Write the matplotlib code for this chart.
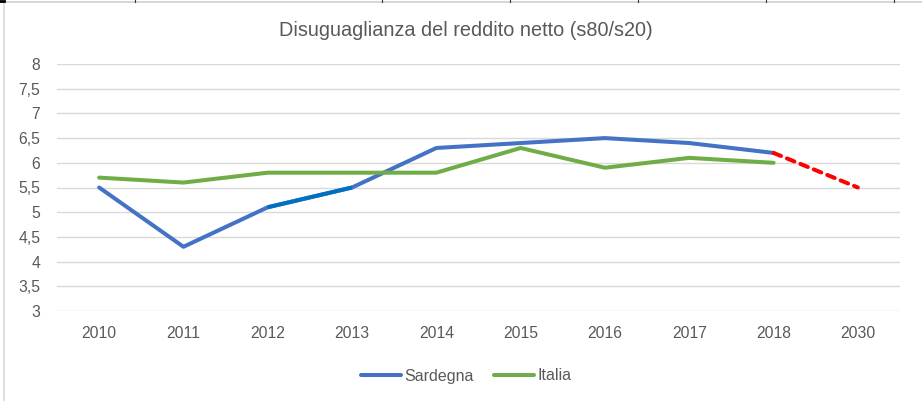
import matplotlib
matplotlib.use("Agg")
import matplotlib.pyplot as plt
from matplotlib.lines import Line2D
import numpy as np

years = ["2010", "2011", "2012", "2013", "2014", "2015", "2016", "2017", "2018", "2030"]
sardegna = [5.5, 4.3, 5.1, 5.5, 6.3, 6.4, 6.5, 6.4, 6.2, np.nan]
italia = [5.7, 5.6, 5.8, 5.8, 5.8, 6.3, 5.9, 6.1, 6.0, np.nan]
proiezione = [np.nan] * 8 + [6.2, 5.5]
yticks = [3, 3.5, 4, 4.5, 5, 5.5, 6, 6.5, 7, 7.5, 8]
ytick_labels = ["3", "3,5", "4", "4,5", "5", "5,5", "6", "6,5", "7", "7,5", "8"]
title = "Disuguaglianza del reddito netto (s80/s20)"

W, H = 922, 401
fig = plt.figure(figsize=(W / 100, H / 100), dpi=100)
txt = "#595959"
font = ["Liberation Sans", "DejaVu Sans"]

ax = fig.add_axes([57 / W, (H - 311) / H, (900 - 57) / W, (311 - 64) / H])
x = np.arange(len(years))

blue = "#4472C4"
green = "#70AD47"
ax.plot(x, sardegna, color=blue, lw=2.9, solid_capstyle="round", solid_joinstyle="round", zorder=3)
# segment 2012-2013 drawn in a darker blue as in the reference
seg = [np.nan, np.nan, sardegna[2], sardegna[3]] + [np.nan] * 6
ax.plot(x, seg, color="#0070C0", lw=2.9, solid_capstyle="butt", zorder=4)
ax.plot(x, italia, color=green, lw=2.9, solid_capstyle="round", solid_joinstyle="round", zorder=3)
ax.plot(x, proiezione, color="#FF0000", lw=2.9, dashes=(2.0, 1.6), dash_capstyle="round", zorder=3)

ax.set_xlim(-0.5, len(years) - 0.5)
ax.set_ylim(3, 8)
ax.set_yticks(yticks)
ax.set_yticklabels(ytick_labels)
ax.set_xticks(x)
ax.set_xticklabels(years)
ax.yaxis.grid(True, color="#D9D9D9", lw=1)
ax.set_axisbelow(True)
for s in ax.spines.values():
    s.set_visible(False)
ax.tick_params(axis="both", length=0, colors=txt, labelsize=11.3)
ax.tick_params(axis="y", pad=12)
ax.tick_params(axis="x", pad=11)
for lab in ax.get_xticklabels() + ax.get_yticklabels():
    lab.set_family(font)
    lab.set_color(txt)

fig.text(466 / W, 1 - 31 / H, title, ha="center", va="center", fontsize=14.3,
         color=txt, family=["Liberation Sans Narrow", "Liberation Sans", "DejaVu Sans"])

handles = [Line2D([], [], color=blue, lw=2.9, solid_capstyle="round"),
           Line2D([], [], color=green, lw=2.9, solid_capstyle="round")]
leg = fig.legend(handles, ["Sardegna", "Italia"], loc="center", bbox_to_anchor=(466 / W, 1 - 376 / H),
                 ncol=2, frameon=False, handlelength=2.5, handletextpad=0.2, columnspacing=1.3,
                 prop={"family": font, "size": 11.5})
for t in leg.get_texts():
    t.set_color(txt)

# outer frame fragments
fig.add_artist(Line2D([0, 1], [1 - 1.5 / H, 1 - 1.5 / H], transform=fig.transFigure, color="#D0D0D0", lw=1.2))
fig.add_artist(Line2D([4 / W, 4 / W], [0, 1 - 2 / H], transform=fig.transFigure, color="#D9D9D9", lw=1.2))
for tx in [135, 382, 510, 638, 766, 894]:
    fig.add_artist(Line2D([tx / W, tx / W], [1, 1 - 2 / H], transform=fig.transFigure, color="#333333", lw=0.8))
fig.add_artist(Line2D([0, 4 / W], [1 - 1 / H, 1 - 1 / H], transform=fig.transFigure, color="#000000", lw=2))

fig.savefig("out.png", dpi=100, facecolor="white")
